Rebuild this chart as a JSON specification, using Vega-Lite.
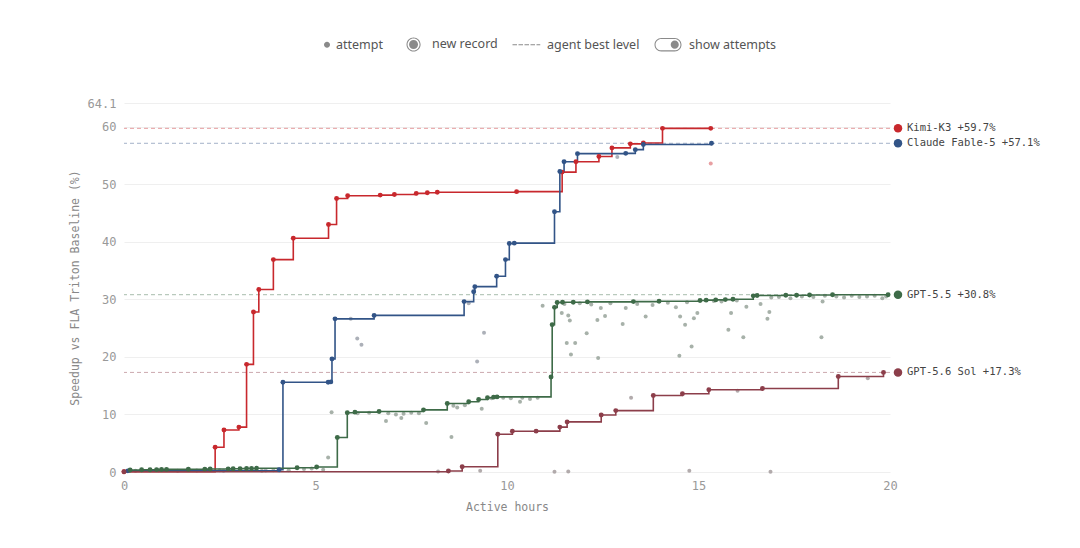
{
  "$schema": "https://vega.github.io/schema/vega-lite/v6.json",
  "width": 766,
  "height": 369,
  "autosize": "none",
  "padding": {"left": 124, "top": 103, "right": 190, "bottom": 76},
  "background": "white",
  "datasets": {
    "records": [
      {"agent": "Kimi-K3", "hours": 0, "speedup": 0.05},
      {"agent": "Kimi-K3", "hours": 2.38, "speedup": 4.3},
      {"agent": "Kimi-K3", "hours": 2.61, "speedup": 7.3},
      {"agent": "Kimi-K3", "hours": 3.0, "speedup": 7.8},
      {"agent": "Kimi-K3", "hours": 3.2, "speedup": 18.7},
      {"agent": "Kimi-K3", "hours": 3.38, "speedup": 27.8},
      {"agent": "Kimi-K3", "hours": 3.52, "speedup": 31.7},
      {"agent": "Kimi-K3", "hours": 3.9, "speedup": 36.9},
      {"agent": "Kimi-K3", "hours": 4.42, "speedup": 40.6},
      {"agent": "Kimi-K3", "hours": 5.34, "speedup": 43.0},
      {"agent": "Kimi-K3", "hours": 5.55, "speedup": 47.5},
      {"agent": "Kimi-K3", "hours": 5.84, "speedup": 48.0},
      {"agent": "Kimi-K3", "hours": 6.69, "speedup": 48.1},
      {"agent": "Kimi-K3", "hours": 7.06, "speedup": 48.2},
      {"agent": "Kimi-K3", "hours": 7.63, "speedup": 48.4},
      {"agent": "Kimi-K3", "hours": 7.92, "speedup": 48.5},
      {"agent": "Kimi-K3", "hours": 8.18, "speedup": 48.6},
      {"agent": "Kimi-K3", "hours": 10.25, "speedup": 48.7},
      {"agent": "Kimi-K3", "hours": 11.44, "speedup": 52.1},
      {"agent": "Kimi-K3", "hours": 11.8, "speedup": 53.9},
      {"agent": "Kimi-K3", "hours": 12.4, "speedup": 54.8},
      {"agent": "Kimi-K3", "hours": 12.74, "speedup": 56.3},
      {"agent": "Kimi-K3", "hours": 13.22, "speedup": 57.0},
      {"agent": "Kimi-K3", "hours": 13.56, "speedup": 57.15},
      {"agent": "Kimi-K3", "hours": 14.06, "speedup": 59.7},
      {"agent": "Kimi-K3", "hours": 15.32, "speedup": 59.7},

      {"agent": "Claude Fable-5", "hours": 0.1, "speedup": 0.2},
      {"agent": "Claude Fable-5", "hours": 4.05, "speedup": 0.4},
      {"agent": "Claude Fable-5", "hours": 4.15, "speedup": 15.6},
      {"agent": "Claude Fable-5", "hours": 5.33, "speedup": 15.6},
      {"agent": "Claude Fable-5", "hours": 5.4, "speedup": 15.65},
      {"agent": "Claude Fable-5", "hours": 5.43, "speedup": 19.65},
      {"agent": "Claude Fable-5", "hours": 5.51, "speedup": 26.6},
      {"agent": "Claude Fable-5", "hours": 6.53, "speedup": 27.2},
      {"agent": "Claude Fable-5", "hours": 8.88, "speedup": 29.6},
      {"agent": "Claude Fable-5", "hours": 9.13, "speedup": 31.3},
      {"agent": "Claude Fable-5", "hours": 9.16, "speedup": 32.2},
      {"agent": "Claude Fable-5", "hours": 9.73, "speedup": 34.0},
      {"agent": "Claude Fable-5", "hours": 9.96, "speedup": 36.9},
      {"agent": "Claude Fable-5", "hours": 10.06, "speedup": 39.7},
      {"agent": "Claude Fable-5", "hours": 10.19, "speedup": 39.75},
      {"agent": "Claude Fable-5", "hours": 11.24, "speedup": 45.2},
      {"agent": "Claude Fable-5", "hours": 11.38, "speedup": 52.2},
      {"agent": "Claude Fable-5", "hours": 11.49, "speedup": 53.9},
      {"agent": "Claude Fable-5", "hours": 11.84, "speedup": 55.3},
      {"agent": "Claude Fable-5", "hours": 13.1, "speedup": 55.35},
      {"agent": "Claude Fable-5", "hours": 13.35, "speedup": 56.0},
      {"agent": "Claude Fable-5", "hours": 13.56, "speedup": 56.9},
      {"agent": "Claude Fable-5", "hours": 15.34, "speedup": 57.1},

      {"agent": "GPT-5.5", "hours": 0.16, "speedup": 0.35},
      {"agent": "GPT-5.5", "hours": 0.46, "speedup": 0.38},
      {"agent": "GPT-5.5", "hours": 0.68, "speedup": 0.4},
      {"agent": "GPT-5.5", "hours": 0.85, "speedup": 0.42},
      {"agent": "GPT-5.5", "hours": 0.98, "speedup": 0.44},
      {"agent": "GPT-5.5", "hours": 1.11, "speedup": 0.45},
      {"agent": "GPT-5.5", "hours": 1.68, "speedup": 0.47},
      {"agent": "GPT-5.5", "hours": 2.11, "speedup": 0.5},
      {"agent": "GPT-5.5", "hours": 2.25, "speedup": 0.52},
      {"agent": "GPT-5.5", "hours": 2.72, "speedup": 0.55},
      {"agent": "GPT-5.5", "hours": 2.85, "speedup": 0.56},
      {"agent": "GPT-5.5", "hours": 3.03, "speedup": 0.58},
      {"agent": "GPT-5.5", "hours": 3.2, "speedup": 0.6},
      {"agent": "GPT-5.5", "hours": 3.33, "speedup": 0.62},
      {"agent": "GPT-5.5", "hours": 3.46, "speedup": 0.64},
      {"agent": "GPT-5.5", "hours": 4.52, "speedup": 0.75},
      {"agent": "GPT-5.5", "hours": 5.03, "speedup": 0.87},
      {"agent": "GPT-5.5", "hours": 5.57, "speedup": 6.0},
      {"agent": "GPT-5.5", "hours": 5.83, "speedup": 10.3},
      {"agent": "GPT-5.5", "hours": 6.03, "speedup": 10.4},
      {"agent": "GPT-5.5", "hours": 6.66, "speedup": 10.5},
      {"agent": "GPT-5.5", "hours": 7.82, "speedup": 10.8},
      {"agent": "GPT-5.5", "hours": 8.44, "speedup": 11.9},
      {"agent": "GPT-5.5", "hours": 9.0, "speedup": 12.2},
      {"agent": "GPT-5.5", "hours": 9.26, "speedup": 12.6},
      {"agent": "GPT-5.5", "hours": 9.49, "speedup": 12.9},
      {"agent": "GPT-5.5", "hours": 9.65, "speedup": 13.0},
      {"agent": "GPT-5.5", "hours": 9.74, "speedup": 13.05},
      {"agent": "GPT-5.5", "hours": 11.15, "speedup": 16.5},
      {"agent": "GPT-5.5", "hours": 11.18, "speedup": 25.6},
      {"agent": "GPT-5.5", "hours": 11.24, "speedup": 28.6},
      {"agent": "GPT-5.5", "hours": 11.31, "speedup": 29.45},
      {"agent": "GPT-5.5", "hours": 11.45, "speedup": 29.5},
      {"agent": "GPT-5.5", "hours": 11.73, "speedup": 29.5},
      {"agent": "GPT-5.5", "hours": 12.1, "speedup": 29.55},
      {"agent": "GPT-5.5", "hours": 13.3, "speedup": 29.6},
      {"agent": "GPT-5.5", "hours": 13.97, "speedup": 29.65},
      {"agent": "GPT-5.5", "hours": 15.04, "speedup": 29.8},
      {"agent": "GPT-5.5", "hours": 15.2, "speedup": 29.85},
      {"agent": "GPT-5.5", "hours": 15.45, "speedup": 29.9},
      {"agent": "GPT-5.5", "hours": 15.7, "speedup": 29.95},
      {"agent": "GPT-5.5", "hours": 15.9, "speedup": 30.0},
      {"agent": "GPT-5.5", "hours": 16.43, "speedup": 30.6},
      {"agent": "GPT-5.5", "hours": 16.53, "speedup": 30.65},
      {"agent": "GPT-5.5", "hours": 17.28, "speedup": 30.7},
      {"agent": "GPT-5.5", "hours": 17.56, "speedup": 30.7},
      {"agent": "GPT-5.5", "hours": 17.9, "speedup": 30.75},
      {"agent": "GPT-5.5", "hours": 18.5, "speedup": 30.8},
      {"agent": "GPT-5.5", "hours": 19.95, "speedup": 30.8},

      {"agent": "GPT-5.6 Sol", "hours": 0, "speedup": 0.05},
      {"agent": "GPT-5.6 Sol", "hours": 8.47, "speedup": 0.17},
      {"agent": "GPT-5.6 Sol", "hours": 8.83, "speedup": 0.9},
      {"agent": "GPT-5.6 Sol", "hours": 9.76, "speedup": 6.55},
      {"agent": "GPT-5.6 Sol", "hours": 10.14, "speedup": 7.07},
      {"agent": "GPT-5.6 Sol", "hours": 10.76, "speedup": 7.1},
      {"agent": "GPT-5.6 Sol", "hours": 11.38, "speedup": 7.8},
      {"agent": "GPT-5.6 Sol", "hours": 11.57, "speedup": 8.7},
      {"agent": "GPT-5.6 Sol", "hours": 12.46, "speedup": 9.9},
      {"agent": "GPT-5.6 Sol", "hours": 12.84, "speedup": 10.67},
      {"agent": "GPT-5.6 Sol", "hours": 13.82, "speedup": 13.3},
      {"agent": "GPT-5.6 Sol", "hours": 14.58, "speedup": 13.6},
      {"agent": "GPT-5.6 Sol", "hours": 15.27, "speedup": 14.3},
      {"agent": "GPT-5.6 Sol", "hours": 16.67, "speedup": 14.5},
      {"agent": "GPT-5.6 Sol", "hours": 18.65, "speedup": 16.6},
      {"agent": "GPT-5.6 Sol", "hours": 19.83, "speedup": 17.3}
    ],
    "attempts": [
      {"agent": "Kimi-K3", "hours": 15.32, "speedup": 53.6},
      {"agent": "Claude Fable-5", "hours": 12.88, "speedup": 54.7},
      {"agent": "Claude Fable-5", "hours": 5.92, "speedup": 26.6},
      {"agent": "Claude Fable-5", "hours": 6.09, "speedup": 23.2},
      {"agent": "Claude Fable-5", "hours": 6.2, "speedup": 22.1},
      {"agent": "Claude Fable-5", "hours": 9.22, "speedup": 19.2},
      {"agent": "Claude Fable-5", "hours": 9.4, "speedup": 24.2},
      {"agent": "Claude Fable-5", "hours": 9.0, "speedup": 29.3},
      {"agent": "Claude Fable-5", "hours": 2.6, "speedup": 0.2},
      {"agent": "Claude Fable-5", "hours": 3.7, "speedup": 0.25},
      {"agent": "GPT-5.5", "hours": 5.33, "speedup": 2.5},
      {"agent": "GPT-5.5", "hours": 5.42, "speedup": 10.4},
      {"agent": "GPT-5.5", "hours": 6.84, "speedup": 8.87},
      {"agent": "GPT-5.5", "hours": 7.24, "speedup": 9.4},
      {"agent": "GPT-5.5", "hours": 7.89, "speedup": 8.5},
      {"agent": "GPT-5.5", "hours": 8.55, "speedup": 6.1},
      {"agent": "GPT-5.5", "hours": 9.34, "speedup": 11.0},
      {"agent": "GPT-5.5", "hours": 10.34, "speedup": 12.2},
      {"agent": "GPT-5.5", "hours": 10.93, "speedup": 28.9},
      {"agent": "GPT-5.5", "hours": 11.43, "speedup": 27.6},
      {"agent": "GPT-5.5", "hours": 11.6, "speedup": 27.2},
      {"agent": "GPT-5.5", "hours": 11.64, "speedup": 26.3},
      {"agent": "GPT-5.5", "hours": 11.56, "speedup": 22.4},
      {"agent": "GPT-5.5", "hours": 11.78, "speedup": 22.4},
      {"agent": "GPT-5.5", "hours": 11.67, "speedup": 20.4},
      {"agent": "GPT-5.5", "hours": 12.08, "speedup": 24.1},
      {"agent": "GPT-5.5", "hours": 12.38, "speedup": 19.8},
      {"agent": "GPT-5.5", "hours": 12.36, "speedup": 26.4},
      {"agent": "GPT-5.5", "hours": 12.45, "speedup": 28.5},
      {"agent": "GPT-5.5", "hours": 12.56, "speedup": 27.1},
      {"agent": "GPT-5.5", "hours": 13.02, "speedup": 25.7},
      {"agent": "GPT-5.5", "hours": 13.1, "speedup": 28.5},
      {"agent": "GPT-5.5", "hours": 13.62, "speedup": 27.0},
      {"agent": "GPT-5.5", "hours": 14.41, "speedup": 28.6},
      {"agent": "GPT-5.5", "hours": 14.52, "speedup": 27.0},
      {"agent": "GPT-5.5", "hours": 14.65, "speedup": 25.6},
      {"agent": "GPT-5.5", "hours": 14.5, "speedup": 20.2},
      {"agent": "GPT-5.5", "hours": 14.82, "speedup": 21.8},
      {"agent": "GPT-5.5", "hours": 14.88, "speedup": 26.7},
      {"agent": "GPT-5.5", "hours": 14.97, "speedup": 27.6},
      {"agent": "GPT-5.5", "hours": 15.78, "speedup": 24.7},
      {"agent": "GPT-5.5", "hours": 15.85, "speedup": 27.6},
      {"agent": "GPT-5.5", "hours": 16.17, "speedup": 23.4},
      {"agent": "GPT-5.5", "hours": 16.25, "speedup": 28.7},
      {"agent": "GPT-5.5", "hours": 16.62, "speedup": 29.2},
      {"agent": "GPT-5.5", "hours": 16.8, "speedup": 26.6},
      {"agent": "GPT-5.5", "hours": 16.85, "speedup": 27.8},
      {"agent": "GPT-5.5", "hours": 18.24, "speedup": 29.6},
      {"agent": "GPT-5.5", "hours": 18.21, "speedup": 23.4},
      {"agent": "GPT-5.5", "hours": 11.5, "speedup": 29.2},
      {"agent": "GPT-5.5", "hours": 11.9, "speedup": 29.3},
      {"agent": "GPT-5.5", "hours": 12.2, "speedup": 29.1},
      {"agent": "GPT-5.5", "hours": 12.7, "speedup": 29.3},
      {"agent": "GPT-5.5", "hours": 13.4, "speedup": 29.2},
      {"agent": "GPT-5.5", "hours": 13.8, "speedup": 29.0},
      {"agent": "GPT-5.5", "hours": 14.2, "speedup": 29.4},
      {"agent": "GPT-5.5", "hours": 14.7, "speedup": 29.5},
      {"agent": "GPT-5.5", "hours": 15.4, "speedup": 29.7},
      {"agent": "GPT-5.5", "hours": 15.6, "speedup": 29.6},
      {"agent": "GPT-5.5", "hours": 16.0, "speedup": 29.8},
      {"agent": "GPT-5.5", "hours": 16.9, "speedup": 30.3},
      {"agent": "GPT-5.5", "hours": 17.1, "speedup": 30.4},
      {"agent": "GPT-5.5", "hours": 17.4, "speedup": 30.2},
      {"agent": "GPT-5.5", "hours": 17.7, "speedup": 30.5},
      {"agent": "GPT-5.5", "hours": 18.0, "speedup": 30.4},
      {"agent": "GPT-5.5", "hours": 18.3, "speedup": 30.6},
      {"agent": "GPT-5.5", "hours": 18.6, "speedup": 30.5},
      {"agent": "GPT-5.5", "hours": 18.8, "speedup": 30.3},
      {"agent": "GPT-5.5", "hours": 19.0, "speedup": 30.6},
      {"agent": "GPT-5.5", "hours": 19.2, "speedup": 30.4},
      {"agent": "GPT-5.5", "hours": 19.4, "speedup": 30.5},
      {"agent": "GPT-5.5", "hours": 19.6, "speedup": 30.6},
      {"agent": "GPT-5.5", "hours": 19.8, "speedup": 30.2},
      {"agent": "GPT-5.5", "hours": 19.9, "speedup": 30.5},
      {"agent": "GPT-5.5", "hours": 6.1, "speedup": 10.2},
      {"agent": "GPT-5.5", "hours": 6.4, "speedup": 10.3},
      {"agent": "GPT-5.5", "hours": 6.9, "speedup": 10.2},
      {"agent": "GPT-5.5", "hours": 7.1, "speedup": 10.0},
      {"agent": "GPT-5.5", "hours": 7.3, "speedup": 10.1},
      {"agent": "GPT-5.5", "hours": 7.5, "speedup": 10.3},
      {"agent": "GPT-5.5", "hours": 7.7, "speedup": 10.2},
      {"agent": "GPT-5.5", "hours": 8.6, "speedup": 11.5},
      {"agent": "GPT-5.5", "hours": 8.7, "speedup": 11.2},
      {"agent": "GPT-5.5", "hours": 8.9, "speedup": 11.6},
      {"agent": "GPT-5.5", "hours": 9.6, "speedup": 12.8},
      {"agent": "GPT-5.5", "hours": 9.9, "speedup": 12.9},
      {"agent": "GPT-5.5", "hours": 10.1, "speedup": 12.8},
      {"agent": "GPT-5.5", "hours": 10.4, "speedup": 12.9},
      {"agent": "GPT-5.5", "hours": 10.6, "speedup": 12.7},
      {"agent": "GPT-5.5", "hours": 10.8, "speedup": 12.9},
      {"agent": "GPT-5.5", "hours": 0.3, "speedup": 0.2},
      {"agent": "GPT-5.5", "hours": 0.9, "speedup": 0.3},
      {"agent": "GPT-5.5", "hours": 1.4, "speedup": 0.2},
      {"agent": "GPT-5.5", "hours": 1.9, "speedup": 0.25},
      {"agent": "GPT-5.5", "hours": 2.5, "speedup": 0.3},
      {"agent": "GPT-5.5", "hours": 3.6, "speedup": 0.2},
      {"agent": "GPT-5.5", "hours": 3.9, "speedup": 0.3},
      {"agent": "GPT-5.5", "hours": 4.3, "speedup": 0.3},
      {"agent": "GPT-5.5", "hours": 4.7, "speedup": 0.5},
      {"agent": "GPT-5.5", "hours": 4.9, "speedup": 0.6},
      {"agent": "GPT-5.5", "hours": 5.2, "speedup": 0.4},
      {"agent": "GPT-5.6 Sol", "hours": 8.2, "speedup": 0.1},
      {"agent": "GPT-5.6 Sol", "hours": 9.3, "speedup": 0.2},
      {"agent": "GPT-5.6 Sol", "hours": 11.24, "speedup": 0.05},
      {"agent": "GPT-5.6 Sol", "hours": 11.6, "speedup": 0.1},
      {"agent": "GPT-5.6 Sol", "hours": 14.76, "speedup": 0.2},
      {"agent": "GPT-5.6 Sol", "hours": 16.88, "speedup": 0.05},
      {"agent": "GPT-5.6 Sol", "hours": 13.24, "speedup": 12.9},
      {"agent": "GPT-5.6 Sol", "hours": 16.02, "speedup": 14.1},
      {"agent": "GPT-5.6 Sol", "hours": 19.42, "speedup": 16.3}
    ],
    "finals": [
      {"agent": "Kimi-K3", "speedup": 59.7, "label": "Kimi-K3 +59.7%"},
      {"agent": "Claude Fable-5", "speedup": 57.1, "label": "Claude Fable-5 +57.1%"},
      {"agent": "GPT-5.5", "speedup": 30.8, "label": "GPT-5.5 +30.8%"},
      {"agent": "GPT-5.6 Sol", "speedup": 17.3, "label": "GPT-5.6 Sol +17.3%"}
    ],
    "legend": [
      {"item": "attempt"},
      {"item": "new record"},
      {"item": "agent best level"},
      {"item": "show attempts"}
    ]
  },
  "layer": [
    {
      "data": {"name": "finals"},
      "mark": {"type": "rule", "strokeDash": [4, 3], "strokeWidth": 1, "opacity": 0.45},
      "encoding": {
        "y": {"field": "speedup", "type": "quantitative", "title": "Speedup vs FLA Triton Baseline (%)",
          "scale": {"domain": [0, 64.1], "nice": false},
          "axis": {"values": [0, 10, 20, 30, 40, 50, 60, 64.1], "grid": true,
            "labelExpr": "datum.value > 62 ? format(datum.value, '.1f') : format(datum.value, 'd')"}},
        "color": {"field": "agent", "type": "nominal", "legend": null,
          "scale": {"domain": ["Kimi-K3", "Claude Fable-5", "GPT-5.5", "GPT-5.6 Sol"],
                    "range": ["#c8282d", "#325487", "#3e6b48", "#8c3e4a"]}}
      }
    },
    {
      "mark": {"type": "rule", "strokeDash": [4, 3], "strokeWidth": 1, "color": "#8a8a8a"},
      "encoding": {"y": {"datum": 0, "type": "quantitative"}}
    },
    {
      "data": {"name": "attempts"},
      "mark": {"type": "circle", "size": 16, "opacity": 0.85},
      "encoding": {
        "x": {"field": "hours", "type": "quantitative", "title": "Active hours",
          "scale": {"domain": [0, 20], "nice": false},
          "axis": {"values": [0, 5, 10, 15, 20], "grid": false, "labelFlush": false}},
        "y": {"field": "speedup", "type": "quantitative", "title": "Speedup vs FLA Triton Baseline (%)"},
        "color": {"field": "agent", "type": "nominal", "legend": null,
          "scale": {"domain": ["Kimi-K3", "Claude Fable-5", "GPT-5.5", "GPT-5.6 Sol"],
                    "range": ["#e48e92", "#9da2ab", "#98a39a", "#a49c9d"]}}
      }
    },
    {
      "data": {"name": "records"},
      "mark": {"type": "line", "interpolate": "step-after", "strokeWidth": 1.6},
      "encoding": {
        "x": {"field": "hours", "type": "quantitative", "title": "Active hours"},
        "y": {"field": "speedup", "type": "quantitative", "title": "Speedup vs FLA Triton Baseline (%)"},
        "color": {"field": "agent", "type": "nominal", "legend": null,
          "scale": {"domain": ["Kimi-K3", "Claude Fable-5", "GPT-5.5", "GPT-5.6 Sol"],
                    "range": ["#c8282d", "#325487", "#3e6b48", "#8c3e4a"]}}
      }
    },
    {
      "data": {"name": "records"},
      "mark": {"type": "circle", "size": 24, "opacity": 1},
      "encoding": {
        "x": {"field": "hours", "type": "quantitative", "title": "Active hours"},
        "y": {"field": "speedup", "type": "quantitative", "title": "Speedup vs FLA Triton Baseline (%)"},
        "color": {"field": "agent", "type": "nominal", "legend": null,
          "scale": {"domain": ["Kimi-K3", "Claude Fable-5", "GPT-5.5", "GPT-5.6 Sol"],
                    "range": ["#c8282d", "#325487", "#3e6b48", "#8c3e4a"]}}
      }
    },
    {
      "data": {"name": "finals"},
      "mark": {"type": "circle", "size": 72, "opacity": 1, "xOffset": 8},
      "encoding": {
        "x": {"datum": 20, "type": "quantitative"},
        "y": {"field": "speedup", "type": "quantitative", "title": "Speedup vs FLA Triton Baseline (%)"},
        "color": {"field": "agent", "type": "nominal", "legend": null,
          "scale": {"domain": ["Kimi-K3", "Claude Fable-5", "GPT-5.5", "GPT-5.6 Sol"],
                    "range": ["#c8282d", "#325487", "#3e6b48", "#8c3e4a"]}}
      }
    },
    {
      "data": {"name": "finals"},
      "mark": {"type": "text", "align": "left", "baseline": "middle", "dx": 17,
        "font": "DejaVu Sans Mono", "fontSize": 10.5, "color": "#444"},
      "encoding": {
        "x": {"datum": 20, "type": "quantitative"},
        "y": {"field": "speedup", "type": "quantitative", "title": "Speedup vs FLA Triton Baseline (%)"},
        "text": {"field": "label", "type": "nominal"}
      }
    },
    {
      "data": {"name": "legend"},
      "mark": {"type": "point", "filled": true, "opacity": 0, "strokeWidth": 0, "color": "#8a8a8a"},
      "encoding": {
        "shape": {"field": "item", "type": "nominal",
          "scale": {"domain": ["attempt", "new record", "agent best level", "show attempts"],
            "range": [
              "M0.6,0A0.2,0.2,0,1,1,1.0,0A0.2,0.2,0,1,1,0.6,0Z",
              "M-0.3,0A0.47,0.47,0,1,1,0.64,0A0.47,0.47,0,1,1,-0.3,0Z M-0.23,0A0.4,0.4,0,1,0,0.57,0A0.4,0.4,0,1,0,-0.23,0Z M-0.13,0A0.3,0.3,0,1,1,0.47,0A0.3,0.3,0,1,1,-0.13,0Z",
              "M-0.9,-0.035H-0.6V0.035H-0.9Z M-0.5,-0.035H-0.2V0.035H-0.5Z M-0.1,-0.035H0.2V0.035H-0.1Z M0.3,-0.035H0.6V0.035H0.3Z M0.7,-0.035H0.95V0.035H0.7Z",
              "M-0.45,-0.45H0.45A0.45,0.45,0,0,1,0.45,0.45H-0.45A0.45,0.45,0,0,1,-0.45,-0.45Z M-0.45,-0.38A0.38,0.38,0,0,0,-0.45,0.38H0.45A0.38,0.38,0,0,0,0.45,-0.38Z M0.18,0A0.27,0.27,0,1,1,0.72,0A0.27,0.27,0,1,1,0.18,0Z"
            ]},
          "legend": {
            "orient": "none", "legendX": 176, "legendY": -74, "direction": "horizontal",
            "title": null, "symbolSize": 900, "symbolFillColor": "#8a8a8a", "symbolStrokeColor": "#8a8a8a",
            "symbolStrokeWidth": 0, "symbolOpacity": 1, "labelFont": "Noto Sans", "labelFontSize": 12.5,
            "labelColor": "#555", "labelOffset": 6, "columnPadding": 13
          }
        }
      }
    }
  ],
  "resolve": {"scale": {"color": "independent"}},
  "config": {
    "view": {"stroke": null},
    "axis": {
      "domain": false, "ticks": false, "gridColor": "#efefef", "gridWidth": 1,
      "labelFont": "DejaVu Sans Mono", "labelFontSize": 12, "labelColor": "#999",
      "titleFont": "DejaVu Sans Mono", "titleFontSize": 11.5, "titleFontWeight": "normal", "titleColor": "#888",
      "labelPadding": 8
    },
    "axisY": {"titlePadding": 7},
    "axisX": {"titlePadding": 10}
  }
}
